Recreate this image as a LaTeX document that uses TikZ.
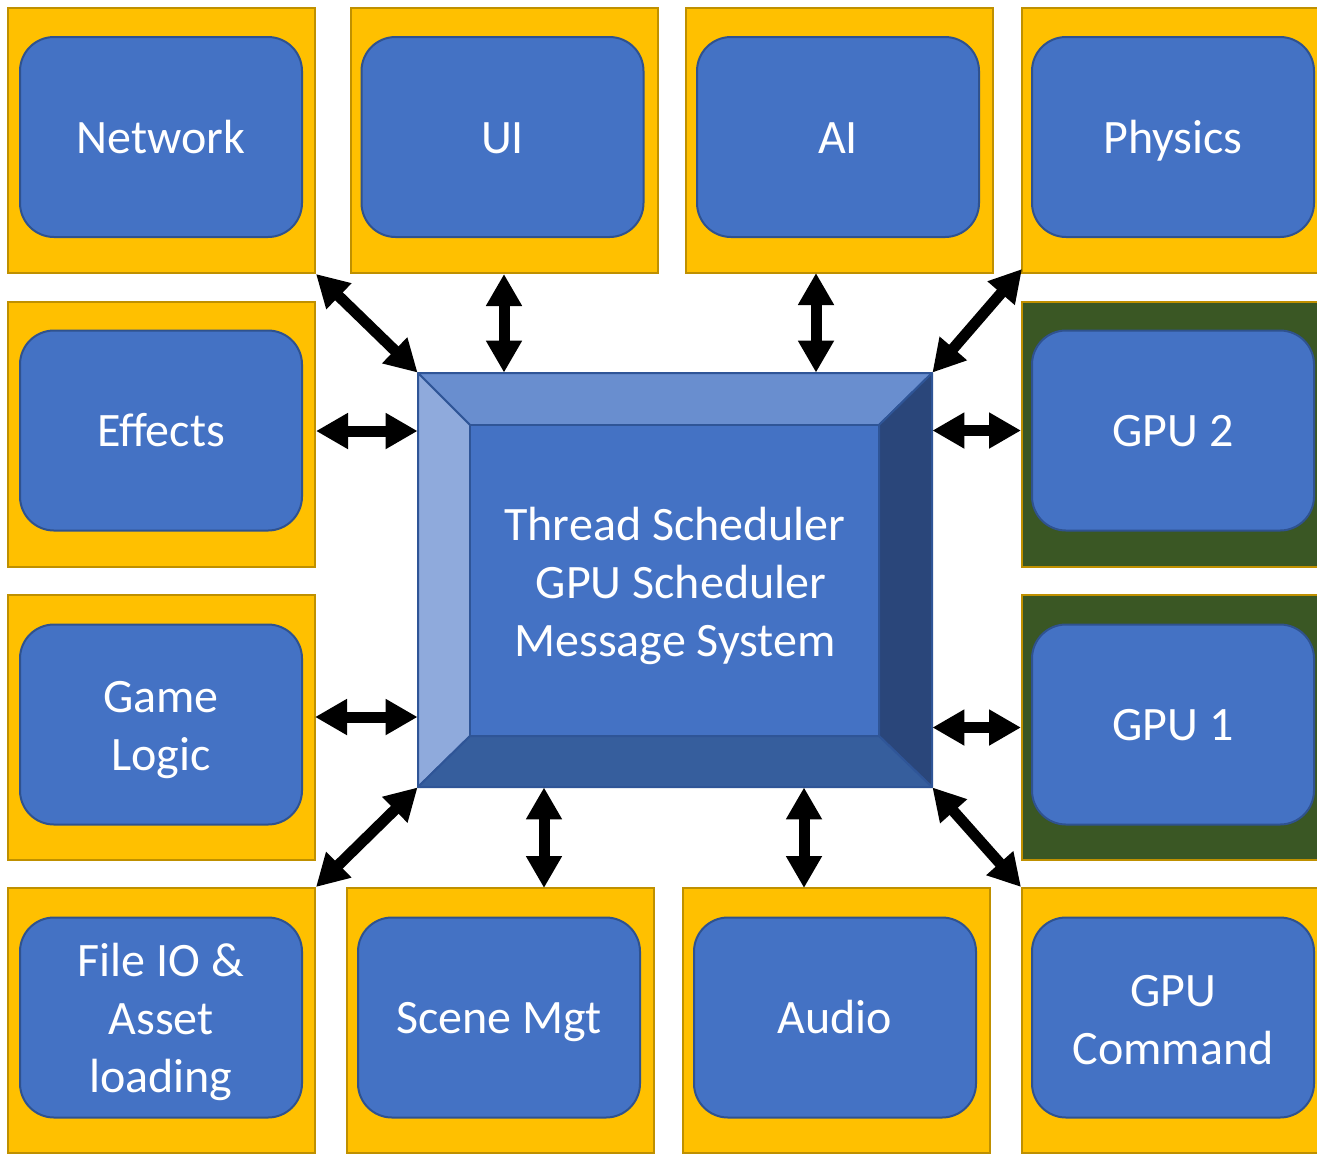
\documentclass[tikz,border=0pt]{standalone}
\usepackage{fontspec}
\setmainfont{Carlito}
\usetikzlibrary{arrows.meta,calc}

\definecolor{tileYellow}{HTML}{FFC000}
\definecolor{tileEdge}{HTML}{BF9000}
\definecolor{tileGreen}{HTML}{3A5724}
\definecolor{unitBlue}{HTML}{4472C4}
\definecolor{unitEdge}{HTML}{2F528F}
\definecolor{bevTop}{HTML}{698ECF}
\definecolor{bevLeft}{HTML}{8FAADC}
\definecolor{bevRight}{HTML}{2A467A}
\definecolor{bevBottom}{HTML}{365E9D}
\definecolor{bevEdge}{HTML}{2F5597}

% invisible rule that gives single lines a fixed height and depth
\newcommand\linestrut{\rule[-4pt]{0pt}{24pt}}

\tikzset{
  label text/.style={text=white, align=center,
    font=\fontsize{24}{29}\selectfont},
  single/.style={execute at begin node=\linestrut},
  stacked/.style={label text, inner sep=0pt, yshift=-3pt},
  tile/.style={draw=tileEdge, line width=1pt, fill=tileYellow,
    minimum width=153.5pt, minimum height=132.5pt, inner sep=0pt},
  gputile/.style={tile, fill=tileGreen},
  unit/.style={draw=unitEdge, line width=1pt, fill=unitBlue,
    rounded corners=17pt, minimum width=141pt, minimum height=100pt,
    inner sep=0pt, label text},
  link/.style={line width=5.5pt,
    {Triangle[length=16pt,width=17pt]}-{Triangle[length=16pt,width=17pt]}},
  face/.style={draw=bevEdge, line width=1pt, line join=round}
}

\begin{document}
\begin{tikzpicture}[x=0.5pt, y=-0.5pt]
\useasboundingbox (0,0) rectangle (1317,1153);
\fill[white] (0,0) rectangle (1317,1153);
\clip (0,0) rectangle (1317,1153);

% outer tiles
\node[tile] (tNet)  at (161.5,140.5) {};
\node[tile] (tUI)   at (504,140.5) {};
\node[tile] (tAI)   at (839,140.5) {};
\node[tile] (tPhy)  at (1175.5,140.5) {};
\node[tile] (tEff)  at (161.5,434) {};
\node[gputile] (tGPU2) at (1175.5,434) {};
\node[tile] (tGame) at (161.5,727.5) {};
\node[gputile] (tGPU1) at (1175.5,727.5) {};
\node[tile] (tFile) at (161.5,1020.5) {};
\node[tile] (tScene) at (500.5,1020.5) {};
\node[tile] (tAudio) at (836.5,1020.5) {};
\node[tile] (tCmd)  at (1175.5,1020.5) {};

% subsystem blocks
\node[unit, single] (net)   at (161,137) {Network};
\node[unit, single] (ui)    at (502.5,137) {UI};
\node[unit, single] (ai)    at (838,137) {AI};
\node[unit, single] (phy)   at (1173,137) {Physics};
\node[unit, single] (eff)   at (161,430.5) {Effects};
\node[unit, single] (gpu2)  at (1173,430.5) {GPU 2};
\node[unit] (game) at (161,724.5) {};
\node[unit, single] (gpu1)  at (1173,724.5) {GPU 1};
\node[unit] (file) at (161,1017.5) {};
\node[unit, single] (scene) at (499,1017.5) {Scene Mgt};
\node[unit, single] (audio) at (835,1017.5) {Audio};
\node[unit] (cmd) at (1173,1017.5) {};

% multi-line captions of the blocks
\node[stacked] (gameText) at (game) {Game\\Logic};
\node[stacked, yshift=0.6pt] (fileText) at (file) {File IO \&\\Asset\\loading};
\node[stacked, yshift=1.5pt] (cmdText)  at (cmd)  {GPU\\Command};

% bevelled core block
\coordinate (onw) at (418,373);  \coordinate (one) at (932,373);
\coordinate (ose) at (932,787);  \coordinate (osw) at (418,787);
\coordinate (inw) at (470,425);  \coordinate (ine) at (879,425);
\coordinate (ise) at (879,736);  \coordinate (isw) at (470,736);
\filldraw[face, fill=bevTop]    (onw) -- (one) -- (ine) -- (inw) -- cycle;
\filldraw[face, fill=bevLeft]   (onw) -- (inw) -- (isw) -- (osw) -- cycle;
\filldraw[face, fill=bevRight]  (one) -- (ose) -- (ise) -- (ine) -- cycle;
\filldraw[face, fill=bevBottom] (osw) -- (isw) -- (ise) -- (ose) -- cycle;
\filldraw[face, fill=unitBlue]  (inw) rectangle (ise);
\node[minimum width=257pt, minimum height=207pt, inner sep=0pt]
  (core) at (675,580) {};
\node[stacked] (coreText) at (core)
  {Thread Scheduler\\\hspace{6pt}GPU Scheduler\\Message System};

% connector end points
\coordinate (aiFoot)    at (816,273);
\coordinate (gameSide)  at (315,717);
\coordinate (sceneHead) at (544,888);
\coordinate (audioHead) at (804,888);
\coordinate (phyFoot)   at (1022,269);

% links between the core and the subsystems
\draw[link] (tNet.south east) -- (core.north west);
\draw[link] (tUI.south) -- (tUI.south |- core.north);
\draw[link] (aiFoot) -- (aiFoot |- core.north);
\draw[link] (phyFoot) -- (core.north east);
\draw[link] (tEff.east) ++(0,-3) coordinate (effSide) -- (effSide -| core.west);
\draw[link] (core.east |- gpu2.east) -- (tGPU2.west |- gpu2.east);
\draw[link] (gameSide) -- (gameSide -| core.west);
\draw[link] (core.east |- tGPU1.west) -- (tGPU1.west);
\draw[link] (tFile.north east) -- (core.south west);
\draw[link] (sceneHead |- core.south) -- (sceneHead);
\draw[link] (audioHead |- core.south) -- (audioHead);
\draw[link] (core.south east) -- (tCmd.north west);
\end{tikzpicture}
\end{document}
